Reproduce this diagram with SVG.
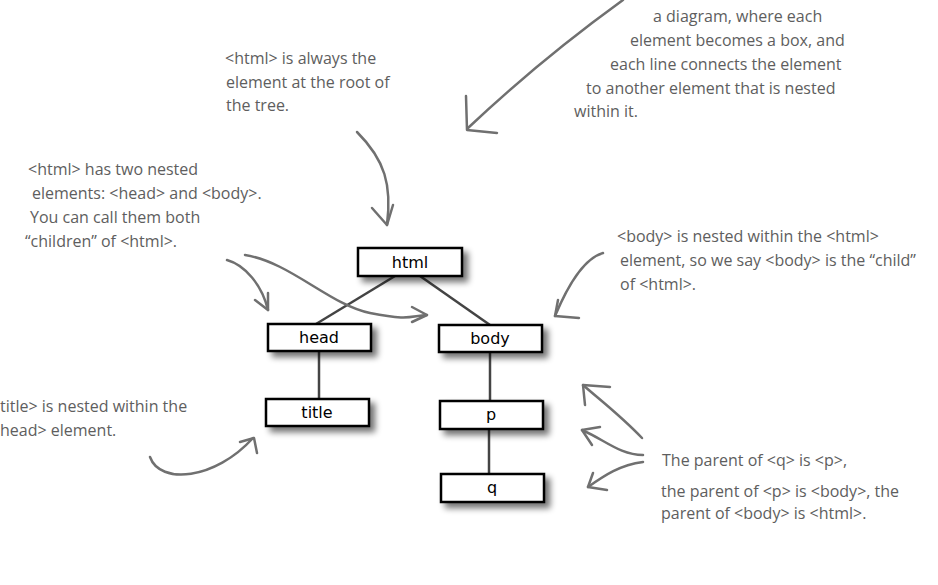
<svg xmlns="http://www.w3.org/2000/svg" width="938" height="585" viewBox="0 0 938 585">
<style>
.box{fill:#fff;stroke:#000;stroke-width:2.5}
.lbl{font-family:"DejaVu Sans",sans-serif;font-size:16px;fill:#000;text-anchor:middle}
.note{font-family:"Open Sans","Liberation Sans",sans-serif;font-size:16px;fill:#5e5e5e}
.edge{stroke:#444;stroke-width:2.5;fill:none}
.arr{stroke:#707070;stroke-width:2.5;fill:none;stroke-linecap:round;stroke-linejoin:round}
</style>
<defs>
<filter id="sh" x="-20%" y="-40%" width="150%" height="200%">
<feGaussianBlur in="SourceAlpha" stdDeviation="3"/>
<feOffset dx="5" dy="5" result="b"/>
<feComponentTransfer><feFuncA type="linear" slope="0.55"/></feComponentTransfer>
<feMerge><feMergeNode/><feMergeNode in="SourceGraphic"/></feMerge>
</filter>
</defs>
<rect width="938" height="585" fill="#fff"/>

<g id="connectors">
<line class="edge" x1="395" y1="276" x2="316" y2="324"/>
<line class="edge" x1="420" y1="276" x2="490" y2="325"/>
<line class="edge" x1="319" y1="351" x2="319" y2="399"/>
<line class="edge" x1="490" y1="352" x2="490" y2="401"/>
<line class="edge" x1="489" y1="429" x2="489" y2="474"/>
</g>

<g id="html"><rect class="box" x="358" y="248" width="104" height="28" filter="url(#sh)"/><text class="lbl" x="410" y="268">html</text></g>
<g id="head"><rect class="box" x="268" y="324" width="103" height="27" filter="url(#sh)"/><text class="lbl" x="319" y="343">head</text></g>
<g id="body"><rect class="box" x="439" y="325" width="103" height="27" filter="url(#sh)"/><text class="lbl" x="490" y="344">body</text></g>
<g id="title"><rect class="box" x="266" y="399" width="103" height="27" filter="url(#sh)"/><text class="lbl" x="317" y="418">title</text></g>
<g id="p"><rect class="box" x="440" y="401" width="103" height="28" filter="url(#sh)"/><text class="lbl" x="491" y="420">p</text></g>
<g id="q"><rect class="box" x="441" y="474" width="103" height="28" filter="url(#sh)"/><text class="lbl" x="492" y="493">q</text></g>

<g id="annotation-arrows">
<path class="arr" d="M623,0 Q540,60 468,128"/>
<path class="arr" d="M466,96 L467,130 L497,133"/>
<path class="arr" d="M357,132 C385,160 392,185 387,225"/>
<path class="arr" d="M372,208 L387,225 L393,205"/>
<path class="arr" d="M227,260 C245,265 262,285 268,310"/>
<path class="arr" d="M268,293 L268,310 L255,300"/>
<path class="arr" d="M245,255 C290,262 330,305 370,313 S410,316 427,315"/>
<path class="arr" d="M412,307 L427,315 L412,322"/>
<path class="arr" d="M603,253 C585,258 568,285 555,316"/>
<path class="arr" d="M558,300 L555,316 L579,318"/>
<path class="arr" d="M150,457 C160,485 215,480 253,438"/>
<path class="arr" d="M240,442 L254,438 L257,453"/>
<path class="arr" d="M642,438 C620,415 600,400 583,385"/>
<path class="arr" d="M610,387 L583,385 L585,405"/>
<path class="arr" d="M643,455 C620,455 605,440 582,430"/>
<path class="arr" d="M600,427 L582,430 L592,445"/>
<path class="arr" d="M643,462 C620,465 605,475 588,487"/>
<path class="arr" d="M593,473 L588,487 L607,490"/>
</g>

<g id="notes">
<text class="note"><tspan x="653" y="22">a diagram, where each</tspan><tspan x="630" y="46">element becomes a box, and</tspan><tspan x="610" y="70">each line connects the element</tspan><tspan x="586" y="94">to another element that is nested</tspan><tspan x="574" y="117">within it.</tspan></text>
<text class="note"><tspan x="225" y="64">&lt;html&gt; is always the</tspan><tspan x="226" y="88">element at the root of</tspan><tspan x="226" y="111">the tree.</tspan></text>
<text class="note"><tspan x="28" y="175">&lt;html&gt; has two nested</tspan><tspan x="32" y="199">elements: &lt;head&gt; and &lt;body&gt;.</tspan><tspan x="30" y="223">You can call them both</tspan><tspan x="25" y="247">“children” of &lt;html&gt;.</tspan></text>
<text class="note"><tspan x="617" y="242">&lt;body&gt; is nested within the &lt;html&gt;</tspan><tspan x="620" y="266">element, so we say &lt;body&gt; is the “child”</tspan><tspan x="620" y="290">of &lt;html&gt;.</tspan></text>
<text class="note"><tspan x="0" y="412">title&gt; is nested within the</tspan><tspan x="0" y="436">head&gt; element.</tspan></text>
<text class="note"><tspan x="662" y="466">The parent of &lt;q&gt; is &lt;p&gt;,</tspan><tspan x="661" y="497">the parent of &lt;p&gt; is &lt;body&gt;, the</tspan><tspan x="661" y="519">parent of &lt;body&gt; is &lt;html&gt;.</tspan></text>
</g>
</svg>
